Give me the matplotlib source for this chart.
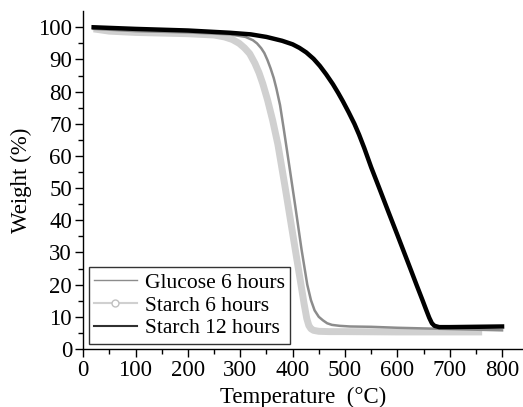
import numpy as np
import matplotlib.pyplot as plt
from matplotlib.lines import Line2D

plt.rcParams['font.family'] = 'Liberation Serif'
plt.rcParams['font.size'] = 16.5

# Glucose 6 hours (medium grey)
t_glu = [20, 100, 200, 280, 310, 324, 332, 340, 346, 352, 358, 364, 369, 376,
         383, 395, 405, 417, 428, 435, 442, 450, 458, 466, 475, 490, 510, 550,
         600, 700, 800]
w_glu = [99.5, 98.8, 98.4, 97.8, 97.0, 96.0, 95.0, 93.5, 92.0, 89.8, 87.2, 84.2,
         81.0, 75.8, 68.5, 55.5, 44.5, 31.0, 20.0, 15.2, 12.0, 10.0, 8.9, 8.0,
         7.5, 7.2, 7.0, 6.9, 6.6, 6.2, 5.8]

# Starch 6 hours (light grey)
t_st6 = [20, 50, 100, 200, 250, 270, 285, 298, 308, 318, 328, 336, 343, 352,
         362, 372, 385, 395, 404, 415, 422, 427, 431, 435, 440, 450, 470, 500,
         600, 700, 762]
w_st6 = [99.5, 98.8, 98.4, 98.0, 97.6, 97.0, 96.2, 95.0, 93.6, 91.8, 88.8, 85.8,
         82.5, 77.5, 71.0, 63.5, 51.0, 41.0, 32.0, 21.0, 14.0, 9.5, 7.3, 6.3,
         5.8, 5.5, 5.4, 5.4, 5.3, 5.3, 5.3]

# Starch 12 hours (black)
t_st12 = [20, 100, 200, 280, 320, 350, 380, 400, 413, 426, 440, 452, 464, 477,
          487, 496, 507, 518, 527, 537, 550, 566, 583, 600, 613, 626, 637, 648,
          655, 661, 666, 671, 680, 700, 750, 800]
w_st12 = [100, 99.5, 99.0, 98.3, 97.8, 97.0, 95.8, 94.7, 93.6, 92.2, 90.2, 88.0,
          85.4, 82.3, 79.6, 77.0, 73.6, 70.0, 66.6, 62.4, 56.5, 49.8, 42.6, 35.5,
          30.0, 24.5, 19.8, 15.2, 12.2, 9.7, 8.0, 7.2, 6.8, 6.8, 6.9, 7.0]

labels = ['Glucose 6 hours', 'Starch 6 hours', 'Starch 12 hours']

fig = plt.figure(figsize=(5.23, 4.07), dpi=100)
ax = fig.add_axes([0.159, 0.1425, 0.841, 0.83])

ax.plot(t_st6, w_st6, color='#d0d0d0', lw=5, zorder=1, solid_capstyle='butt')
ax.plot(t_glu, w_glu, color='#8c8c8c', lw=1.8, zorder=2)
ax.plot(t_st12, w_st12, color='black', lw=3.2, zorder=3)

ax.set_xlim(0, 840)
ax.set_ylim(0, 105)
ax.set_xticks(np.arange(0, 801, 100))
ax.set_xticks(np.arange(0, 801, 50), minor=True)
ax.set_yticks(np.arange(0, 101, 10))
ax.set_yticks(np.arange(0, 101, 5), minor=True)
ax.tick_params(which='major', direction='out', length=6, width=1,
               labelsize=16.5, pad=2)
ax.tick_params(which='minor', direction='out', length=3.5, width=1)
for s in ('top', 'right'):
    ax.spines[s].set_visible(False)
for s in ('left', 'bottom'):
    ax.spines[s].set_linewidth(1)

ax.set_xlabel('Temperature  (°C)', fontsize=16.5, labelpad=4)
ax.set_ylabel('Weight (%)', fontsize=16.5, labelpad=4)

handles = [
    Line2D([], [], color='#8c8c8c', lw=1),
    Line2D([], [], color='#d0d0d0', lw=1.5, marker='o', markersize=5,
           markerfacecolor='white', markeredgecolor='#c0c0c0'),
    Line2D([], [], color='#303030', lw=1.5),
]
leg = ax.legend(handles, labels, loc='lower left', fontsize=15.5, frameon=True,
                fancybox=False, edgecolor='black', borderaxespad=0.25,
                handlelength=2.0, handletextpad=0.35, labelspacing=0.12,
                borderpad=0.25)
leg.get_frame().set_linewidth(1)

fig.savefig('out.png', dpi=100)
